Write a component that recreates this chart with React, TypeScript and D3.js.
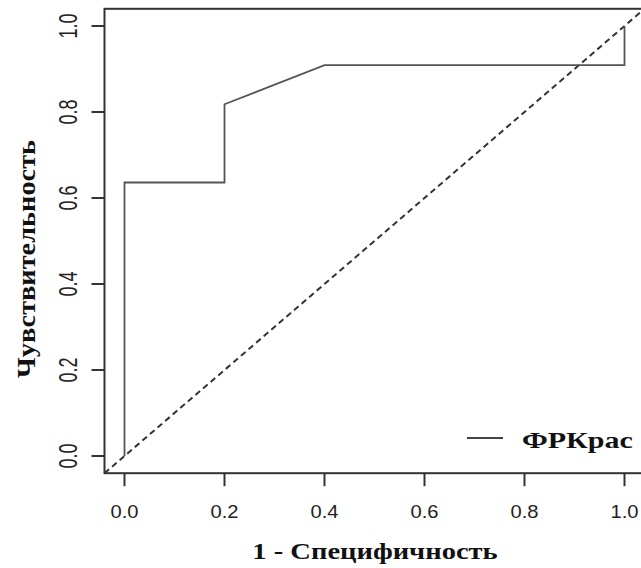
import React from "react";
import * as d3 from "d3";

// ROC points (1 - specificity, sensitivity)
const fpr = [0, 0, 0.2, 0.2, 0.4, 1.0, 1.0];
const tpr = [0, 0.636, 0.636, 0.818, 0.909, 0.909, 1.0];
const tickValues = [0, 0.2, 0.4, 0.6, 0.8, 1.0];
const seriesName = "ФРКрас";
const xTitle = "1 - Специфичность";
const yTitle = "Чувствительность";

export default function App() {
  const width = 641;
  const height = 568;

  const x = d3.scaleLinear().domain([0, 1]).range([124.5, 624.5]);
  const y = d3.scaleLinear().domain([0, 1]).range([456, 26]);
  const x0 = x(-0.04), x1 = x(1.04);
  const y0 = y(-0.04), y1 = y(1.04);

  const points: [number, number][] = fpr.map((f, i) => [f, tpr[i]]);
  const line = d3
    .line<[number, number]>()
    .x((d) => x(d[0]))
    .y((d) => y(d[1]));

  const fmt = d3.format(".1f");
  const sans = "'Liberation Sans', Arial, sans-serif";
  const serif = "'Liberation Serif', 'Times New Roman', serif";

  return (
    <svg
      width={width}
      height={height}
      style={{ position: "absolute", left: 0, top: 0, background: "#fff" }}
    >
      <defs>
        <clipPath id="plot">
          <rect x={x0} y={y1} width={x1 - x0} height={y0 - y1} />
        </clipPath>
      </defs>

      <g clipPath="url(#plot)">
        <line
          x1={x0}
          y1={y0}
          x2={x1}
          y2={y1}
          stroke="#333"
          strokeWidth={2}
          strokeDasharray="6,4"
        />
        <path d={line(points) || ""} fill="none" stroke="#555" strokeWidth={1.8} />
      </g>

      <rect
        x={x0}
        y={y1}
        width={x1 - x0}
        height={y0 - y1}
        fill="none"
        stroke="#333"
        strokeWidth={2}
      />

      {/* x axis */}
      {tickValues.map((t) => (
        <g key={"x" + t}>
          <line x1={x(t)} x2={x(t)} y1={y0} y2={y0 + 13} stroke="#333" strokeWidth={2} />
          <text
            transform={`translate(${x(t)},${518}) scale(1.12,1)`}
            textAnchor="middle"
            fontFamily={sans}
            fontSize={18}
            fill="#222"
          >
            {fmt(t)}
          </text>
        </g>
      ))}

      {/* y axis */}
      {tickValues.map((t) => (
        <g key={"y" + t}>
          <line x1={x0 - 13} x2={x0} y1={y(t)} y2={y(t)} stroke="#333" strokeWidth={2} />
          <text
            transform={`translate(${77},${y(t)}) scale(1.45,1) rotate(-90)`}
            textAnchor="middle"
            fontFamily={sans}
            fontSize={18}
            fill="#222"
          >
            {fmt(t)}
          </text>
        </g>
      ))}

      <text
        transform={`translate(${375},${559}) scale(1.19,1)`}
        textAnchor="middle"
        fontFamily={serif}
        fontWeight="bold"
        fontSize={24}
        fill="#111"
      >
        {xTitle}
      </text>
      <text
        transform={`translate(${35},${259}) rotate(-90) scale(1.09,1)`}
        textAnchor="middle"
        fontFamily={serif}
        fontWeight="bold"
        fontSize={26}
        fill="#111"
      >
        {yTitle}
      </text>

      {/* legend */}
      <line x1={467} x2={503} y1={438} y2={438} stroke="#444" strokeWidth={1.8} />
      <text
        transform={`translate(${522},${448}) scale(1.25,1)`}
        fontFamily={serif}
        fontWeight="bold"
        fontSize={24}
        fill="#111"
      >
        {seriesName}
      </text>
    </svg>
  );
}
